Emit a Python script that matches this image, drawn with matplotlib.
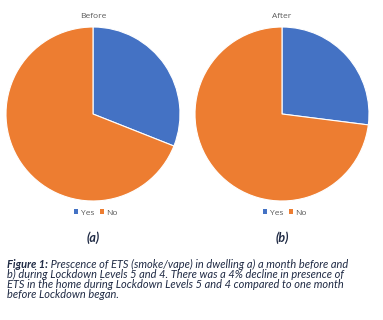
import numpy as np
import matplotlib.pyplot as plt
from matplotlib.patches import Patch

# datos (%)
labels = ["Yes", "No"]
before = [31, 69]
after = [27, 73]
titles = ["Before", "After"]
tags = ["(a)", "(b)"]
colors = ["#4472C4", "#ED7D31"]

caption_bold = "Figure 1:"
caption_lines = [
    " Prescence of ETS (smoke/vape) in dwelling a) a month before and",
    "b) during Lockdown Levels 5 and 4. There was a 4% decline in presence of",
    "ETS in the home during Lockdown Levels 5 and 4 compared to one month",
    "before Lockdown began.",
]

W, H = 383, 320
fig = plt.figure(figsize=(W / 100, H / 100), dpi=100)


def px(x0, y0, x1, y1):
    # rectangulo en pixeles (origen arriba a la izquierda) -> fraccion de figura
    return [x0 / W, 1 - y1 / H, (x1 - x0) / W, (y1 - y0) / H]


centers = [93, 282]
r = 87
for i, data in enumerate([before, after]):
    cx = centers[i]
    ax = fig.add_axes(px(cx - r, 114 - r, cx + r, 114 + r))
    ax.pie(data, colors=colors, startangle=90, counterclock=False,
           wedgeprops=dict(edgecolor="white", linewidth=0.8))
    ax.set_xlim(-1, 1)
    ax.set_ylim(-1, 1)
    ax.set_aspect("equal")
    fig.text(cx / W, 1 - 16 / H, titles[i], ha="center", va="center",
             fontsize=6, color="#595959", family="Open Sans")
    handles = [Patch(facecolor=c) for c in colors]
    fig.legend(handles, labels, loc="center", bbox_to_anchor=((cx + 3) / W, 1 - 213 / H),
               ncol=2, frameon=False, handlelength=0.5,
               handleheight=0.5, handletextpad=0.3, columnspacing=0.7,
               labelcolor="#595959", prop=dict(family="Open Sans", size=6))
    fig.text(cx / W, 1 - 238 / H, tags[i], ha="center", va="center",
             fontsize=9, style="italic", weight="bold", color="#1f2a44",
             family="Lato")

# pie de figura
fs = 7.9
y0 = 268.5
tb = fig.text(7 / W, 1 - y0 / H, caption_bold, ha="left", va="baseline",
              fontsize=fs, style="italic", weight="bold", color="#1f2a44",
              family="Lato")
fig.canvas.draw()
bb = tb.get_window_extent()
fig.text(bb.x1 / W, 1 - y0 / H, caption_lines[0], ha="left", va="baseline",
         fontsize=fs, style="italic", color="#1f2a44", family="Lato")
for j, line in enumerate(caption_lines[1:]):
    fig.text(7 / W, 1 - (y0 + 9.8 * (j + 1)) / H, line, ha="left", va="baseline",
             fontsize=fs, style="italic", color="#1f2a44", family="Lato")

fig.savefig("out.png", dpi=100)
